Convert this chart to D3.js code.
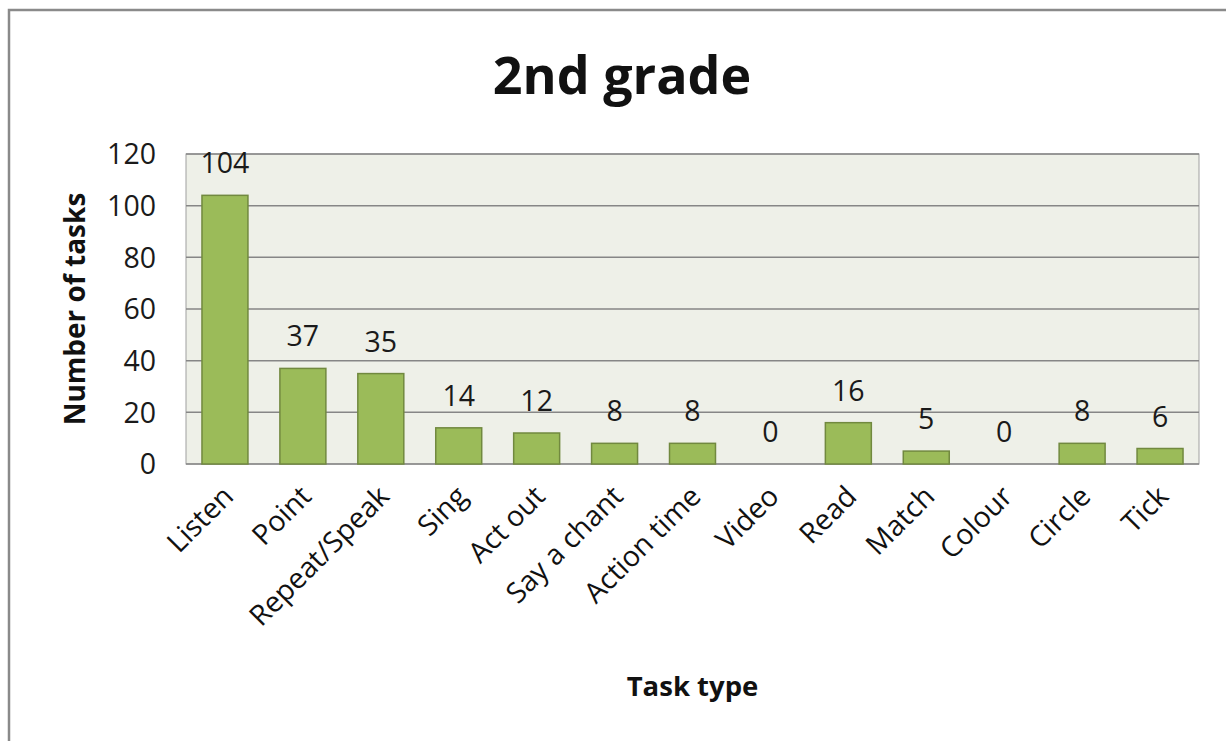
<!DOCTYPE html>
<html>
<head>
<meta charset="utf-8">
<script src="https://cdn.jsdelivr.net/npm/d3@7"></script>
<style>
  body { margin: 0; background: #fff; }
  text { font-family: "Open Sans", sans-serif; }
</style>
</head>
<body>
<div id="chart"></div>
<script>
let WIDTH = 1226
let HEIGHT = 741

// data
let categories = ['Listen', 'Point', 'Repeat/Speak', 'Sing', 'Act out', 'Say a chant',
    'Action time', 'Video', 'Read', 'Match', 'Colour', 'Circle', 'Tick']
let counts = [104, 37, 35, 14, 12, 8, 8, 0, 16, 5, 0, 8, 6]
let yTicks = [0, 20, 40, 60, 80, 100, 120]
let title = '2nd grade'
let xTitle = 'Task type'
let yTitle = 'Number of tasks'

let plot = {left: 186, right: 1199, top: 154, bottom: 464}

let svg = d3.select('#chart')
    .append('svg')
    .attr('width', WIDTH)
    .attr('height', HEIGHT)

// outer chart frame (runs off the right and bottom edge)
svg.append('rect')
    .attr('x', 9)
    .attr('y', 10)
    .attr('width', 1240)
    .attr('height', 760)
    .attr('fill', '#fff')
    .attr('stroke', '#8a8a8a')
    .attr('stroke-width', 2.5)

let x = d3.scaleBand()
    .domain(categories)
    .range([plot.left, plot.right])
    .paddingInner(0.41)
    .paddingOuter(0.205)

let y = d3.scaleLinear()
    .domain([0, 120])
    .range([plot.bottom, plot.top])

// plot background
svg.append('rect')
    .attr('x', plot.left)
    .attr('y', plot.top)
    .attr('width', plot.right - plot.left)
    .attr('height', plot.bottom - plot.top)
    .attr('fill', '#eef0e8')
    .attr('stroke', '#a0a0a0')
    .attr('stroke-width', 1)

// gridlines
svg.append('g')
    .selectAll('line')
    .data(yTicks)
    .join('line')
    .attr('x1', plot.left)
    .attr('x2', plot.right)
    .attr('y1', d => y(d))
    .attr('y2', d => y(d))
    .attr('stroke', '#868686')
    .attr('stroke-width', 1.5)

// y tick labels
svg.append('g')
    .selectAll('text')
    .data(yTicks)
    .join('text')
    .attr('x', 156)
    .attr('y', d => y(d))
    .attr('dy', '0.36em')
    .attr('text-anchor', 'end')
    .attr('font-size', 28.5)
    .attr('fill', '#1a1a1a')
    .text(d => d)

// bars
svg.append('g')
    .selectAll('rect')
    .data(counts)
    .join('rect')
    .attr('x', (d, i) => x(categories[i]))
    .attr('y', d => y(d))
    .attr('width', x.bandwidth())
    .attr('height', d => y(0) - y(d))
    .attr('fill', '#9bbb59')
    .attr('stroke', '#71893f')
    .attr('stroke-width', 1.5)

// value labels
svg.append('g')
    .selectAll('text')
    .data(counts)
    .join('text')
    .attr('x', (d, i) => x(categories[i]) + x.bandwidth() / 2)
    .attr('y', d => y(d) - 22)
    .attr('text-anchor', 'middle')
    .attr('font-size', 28.5)
    .attr('fill', '#1a1a1a')
    .text(d => d)

// category labels, rotated
svg.append('g')
    .selectAll('text')
    .data(categories)
    .join('text')
    .attr('transform', d => `translate(${x(d) + x.bandwidth() / 2 - 4},${plot.bottom + 20}) rotate(-45)`)
    .attr('text-anchor', 'end')
    .attr('dy', '0.7em')
    .attr('font-size', 28.5)
    .attr('fill', '#111')
    .text(d => d)

// axis titles
svg.append('text')
    .attr('x', (plot.left + plot.right) / 2)
    .attr('y', 696)
    .attr('text-anchor', 'middle')
    .attr('font-size', 27.5)
    .attr('font-weight', 'bold')
    .attr('fill', '#111')
    .text(xTitle)

svg.append('text')
    .attr('transform', `translate(85,${(plot.top + plot.bottom) / 2}) rotate(-90)`)
    .attr('text-anchor', 'middle')
    .attr('font-size', 28)
    .attr('font-weight', 'bold')
    .attr('fill', '#111')
    .text(yTitle)

// title
svg.append('text')
    .attr('x', 622)
    .attr('y', 94)
    .attr('text-anchor', 'middle')
    .attr('font-size', 52)
    .attr('font-weight', 'bold')
    .attr('fill', '#111')
    .text(title)
</script>
</body>
</html>
